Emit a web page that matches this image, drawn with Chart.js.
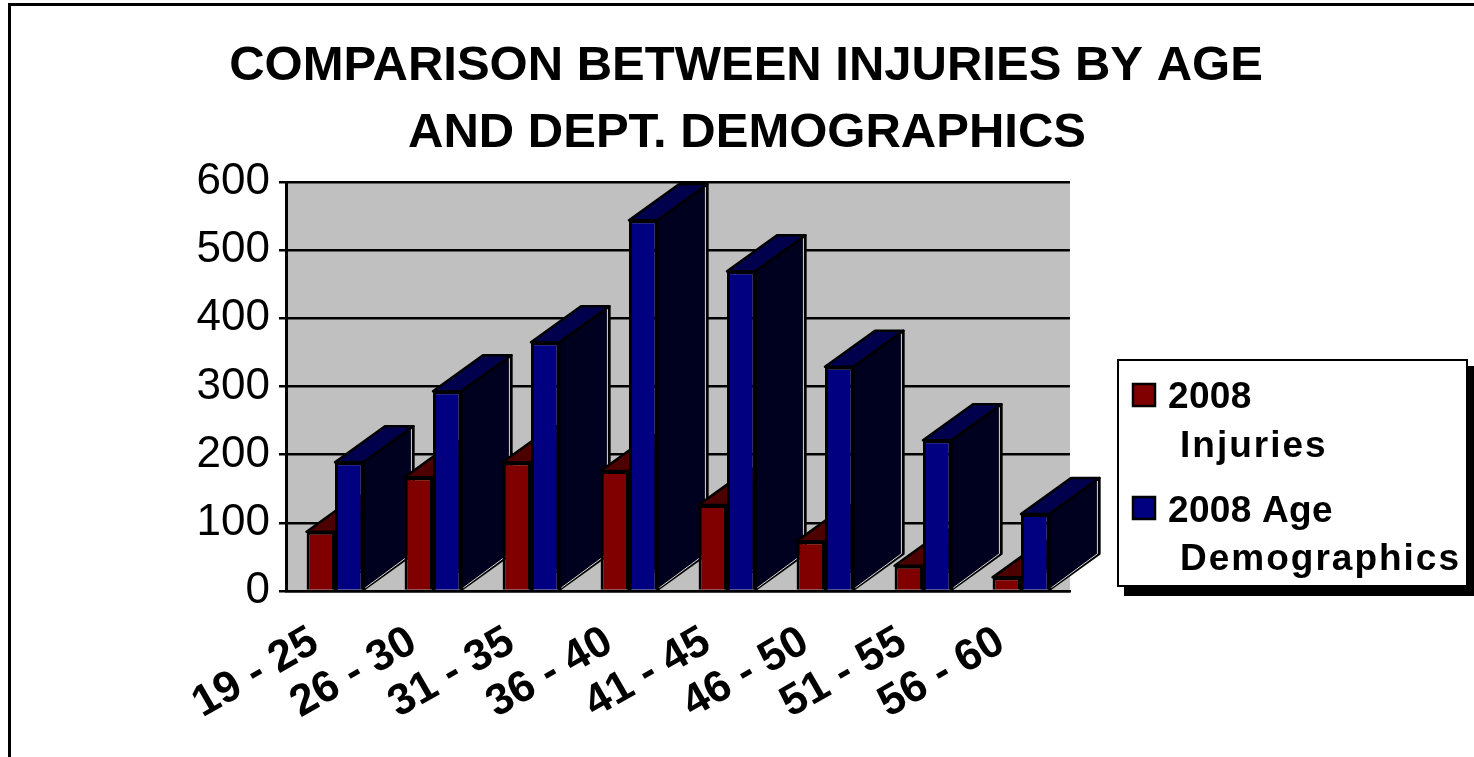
<!DOCTYPE html>
<html><head><meta charset="utf-8">
<style>html,body{margin:0;padding:0;background:#fff;overflow:hidden}canvas{display:block}</style>
<script src="https://cdn.jsdelivr.net/npm/chart.js@4"></script></head>
<body><canvas id="c" width="1474" height="757"></canvas>
<script>
const categories = ['19 - 25','26 - 30','31 - 35','36 - 40','41 - 45','46 - 50','51 - 55','56 - 60'];
const injuries = [87,167,189,176,126,73,37,20];
const demographics = [189,293,365,544,469,329,221,113];
const seriesNames = ['2008 Injuries','2008 Age Demographics'];
const titleLines = ['COMPARISON BETWEEN INJURIES BY AGE','AND DEPT. DEMOGRAPHICS'];
const legendLines = [['2008','Injuries'],['2008 Age','Demographics']];
const yTicks = [0,100,200,300,400,500,600];
const FONT = '"Liberation Sans", Arial, sans-serif';
const DX = 50, DY = -36;

const frontColors = ['#800000','#000080'];
const topColors = ['#4d0000','#00004d'];
const sideColors = ['#2b0000','#00001f'];

function poly(ctx, pts, fill) {
  ctx.beginPath();
  pts.forEach((p, i) => i ? ctx.lineTo(p[0], p[1]) : ctx.moveTo(p[0], p[1]));
  ctx.closePath();
  ctx.fillStyle = fill; ctx.fill();
  ctx.strokeStyle = '#000'; ctx.lineWidth = 2.5; ctx.stroke();
}

const frame3d = {
  id: 'frame3d',
  beforeDraw(chart) {
    const {ctx, chartArea: a} = chart;
    ctx.save();
    ctx.fillStyle = '#c0c0c0';
    ctx.fillRect(a.left, a.top, a.right - a.left, a.bottom - a.top);
    ctx.strokeStyle = '#000'; ctx.lineWidth = 3;
    ctx.beginPath(); ctx.moveTo(9.5, 757); ctx.lineTo(9.5, 4.5); ctx.lineTo(1474, 4.5); ctx.stroke();
    ctx.restore();
  },
  beforeDatasetsDraw(chart) {
    const ctx = chart.ctx;
    const m0 = chart.getDatasetMeta(0).data, m1 = chart.getDatasetMeta(1).data;
    ctx.save(); ctx.lineJoin = 'round';
    categories.forEach((_, i) => {
      [m0[i], m1[i]].forEach((bar, k) => {
        const p = bar.getProps(['x','y','base','width'], true);
        const l = p.x - p.width / 2, r = p.x + p.width / 2, t = p.y, b = p.base;
        poly(ctx, [[r,b],[r+DX,b+DY],[r+DX,t+DY],[r,t]], sideColors[k]);
        poly(ctx, [[l,t],[r,t],[r+DX,t+DY],[l+DX,t+DY]], topColors[k]);
        ctx.strokeStyle = '#d8d8d8'; ctx.lineWidth = 1;
        ctx.beginPath(); ctx.moveTo(r+2,b-2); ctx.lineTo(r+DX-2,b+DY); ctx.lineTo(r+DX-2,t+DY+3); ctx.stroke();
      });
    });
    ctx.restore();
  },
  afterDraw(chart) {
    const ctx = chart.ctx;
    ctx.save();
    ctx.fillStyle = '#000';
    ctx.textAlign = 'center'; ctx.textBaseline = 'alphabetic';
    ctx.font = 'bold 49px ' + FONT;
    ctx.fillText(titleLines[0], 746, 80);
    ctx.fillText(titleLines[1], 747, 147);
    // legend box
    ctx.fillRect(1124, 366, 350, 230);
    ctx.fillStyle = '#fff'; ctx.strokeStyle = '#000'; ctx.lineWidth = 2;
    ctx.fillRect(1118, 360, 349, 226); ctx.strokeRect(1118, 360, 349, 226);
    const rows = [[383, 408, 457], [496, 522, 570]];
    ctx.textAlign = 'left';
    ctx.font = 'bold 37px ' + FONT;
    ctx.lineWidth = 2.5;
    rows.forEach((r, k) => {
      ctx.fillStyle = frontColors[k];
      ctx.fillRect(1133, r[0] + 1, 22, 22);
      ctx.strokeRect(1133, r[0] + 1, 22, 22);
      ctx.fillStyle = '#000';
      ctx.letterSpacing = '0.3px';
      ctx.fillText(legendLines[k][0], 1168, r[1]);
      ctx.letterSpacing = '2px';
      ctx.fillText(legendLines[k][1], 1180, r[2]);
    });
    ctx.restore();
  }
};

new Chart(document.getElementById('c'), {
  type: 'bar',
  data: {
    labels: categories,
    datasets: [
      {label: seriesNames[0], data: injuries, backgroundColor: frontColors[0], borderColor: '#000', borderWidth: 3},
      {label: seriesNames[1], data: demographics, backgroundColor: frontColors[1], borderColor: '#000', borderWidth: 3}
    ]
  },
  options: {
    responsive: false, animation: false,
    layout: {padding: {left: 0, right: 404, top: 182, bottom: 0}},
    plugins: {legend: {display: false}, title: {display: false}, tooltip: {enabled: false}},
    datasets: {bar: {categoryPercentage: 0.58, barPercentage: 1, clip: false}},
    scales: {
      x: {
        grid: {display: false},
        border: {color: '#000', width: 2.5},
        afterFit(s) { s.height = 166; },
        ticks: {color: '#000', font: {family: FONT, size: 44, weight: 'bold'}, minRotation: 30, maxRotation: 30, autoSkip: false, padding: 17, labelOffset: -20}
      },
      y: {
        min: 0, max: 600,
        afterFit(s) { s.width = 286; },
        afterBuildTicks(s) { s.ticks = yTicks.map(v => ({value: v})); },
        border: {color: '#000', width: 3},
        grid: {color: '#000', lineWidth: 2.5, tickLength: 7, drawTicks: true},
        ticks: {color: '#000', font: {family: FONT, size: 44}, padding: 9}
      }
    }
  },
  plugins: [frame3d]
});
</script></body></html>
